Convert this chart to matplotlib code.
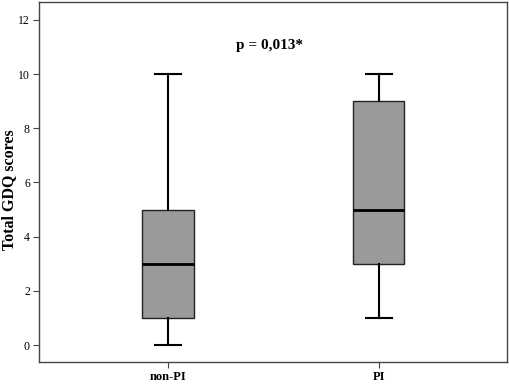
import matplotlib
matplotlib.use('Agg')
import matplotlib.pyplot as plt

# box summary
groups = ['non-PI', 'PI']
mins = [0, 1]
q1s = [1, 3]
medians = [3, 5]
q3s = [5, 9]
maxs = [10, 10]
yticks = [0, 2, 4, 6, 8, 10, 12]
p_text = 'p = 0,013*'

plt.rcParams['font.family'] = ['Liberation Serif', 'DejaVu Serif']

stats = []
for i in range(len(groups)):
    stats.append({'label': groups[i], 'whislo': mins[i], 'q1': q1s[i],
                  'med': medians[i], 'q3': q3s[i], 'whishi': maxs[i]})

fig = plt.figure(figsize=(5.1, 3.84), dpi=100)
ax = fig.add_axes([0.0765, 0.057, 0.918, 0.938])

ax.bxp(stats, positions=[1, 2], widths=0.246, showfliers=False, patch_artist=True,
       boxprops=dict(facecolor='#9a9a9a', edgecolor='#222222', linewidth=1.0),
       medianprops=dict(color='black', linewidth=2.0),
       whiskerprops=dict(color='black', linewidth=1.5),
       capprops=dict(color='black', linewidth=1.5),
       capwidths=0.123)

ax.set_xlim(0.39, 2.61)
ax.set_ylim(-0.63, 12.66)
ax.set_yticks(yticks)
ax.set_yticklabels([str(t) for t in yticks], fontsize=8.5)
ax.set_xticks([1, 2])
ax.set_xticklabels(groups, fontsize=9, fontweight='bold')
ax.tick_params(length=4.5, width=0.8, color='#444444', pad=2)
ax.set_ylabel('Total GDQ scores', fontsize=11.5, fontweight='bold')
ax.yaxis.set_label_coords(-0.046, 0.478)
for s in ax.spines.values():
    s.set_color('#444444')
    s.set_linewidth(1.0)

ax.text(1.485, 11.07, p_text, ha='center', va='center', fontsize=11, fontweight='bold')

plt.savefig('out.png', dpi=100)
plt.close()
